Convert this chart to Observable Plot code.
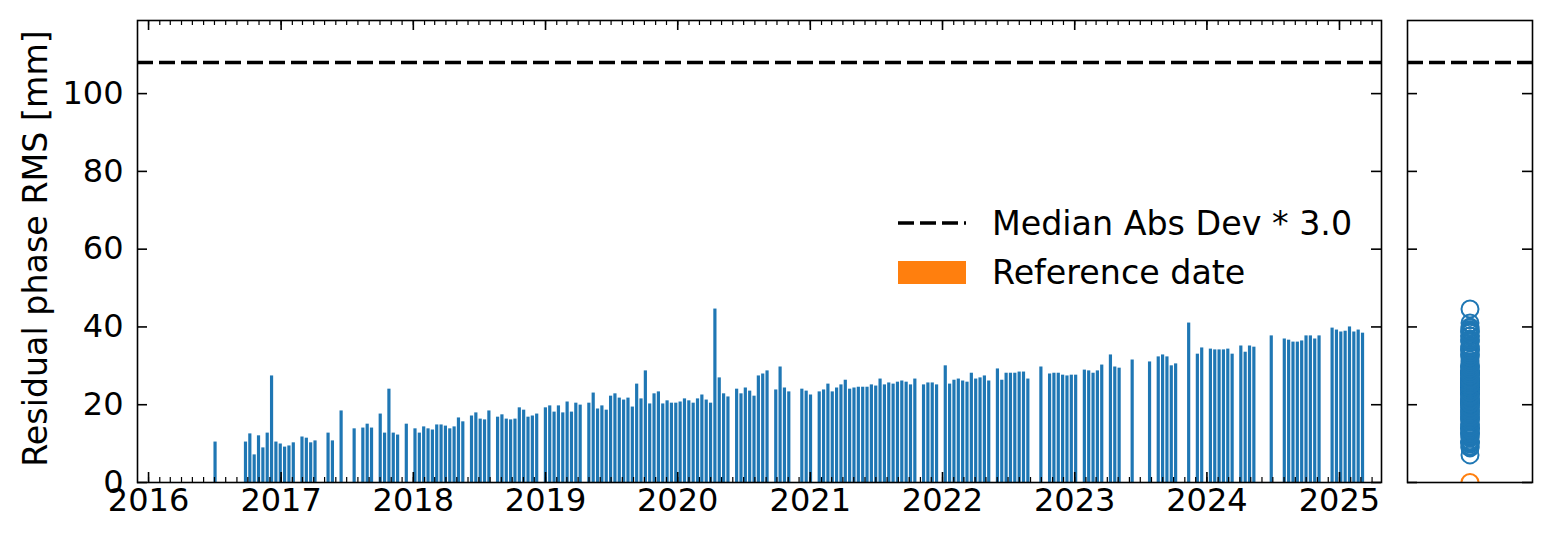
<!DOCTYPE html>
<html><head><meta charset="utf-8">
<script src="https://cdn.jsdelivr.net/npm/d3@7"></script>
<script src="https://cdn.jsdelivr.net/npm/@observablehq/plot@0.6"></script>
<style>
body{margin:0;background:#fff;}
#wrap{position:relative;width:1552px;height:545px;font-family:"DejaVu Sans";}
#wrap > svg{position:absolute;top:0;}
</style></head><body><div id="wrap"></div>
<script>
// ---- data ----
const dates = [
 "2016-07-04","2016-09-26","2016-10-08","2016-10-20","2016-11-01","2016-11-13","2016-11-25","2016-12-07","2016-12-19","2016-12-31",
 "2017-01-12","2017-01-24","2017-02-05","2017-03-01","2017-03-13","2017-03-25","2017-04-06","2017-05-12","2017-05-24","2017-06-17",
 "2017-07-23","2017-08-16","2017-08-28","2017-09-09","2017-10-03","2017-10-15","2017-10-27","2017-11-08","2017-11-20","2017-12-14",
 "2018-01-07","2018-01-19","2018-01-31","2018-02-12","2018-02-24","2018-03-08","2018-03-20","2018-04-01","2018-04-13","2018-04-25","2018-05-07","2018-05-19",
 "2018-06-12","2018-06-24","2018-07-06","2018-07-18","2018-07-30",
 "2018-08-23","2018-09-04","2018-09-16","2018-09-28","2018-10-10","2018-10-22","2018-11-03","2018-11-15","2018-11-27","2018-12-09",
 "2019-01-02","2019-01-14","2019-01-26","2019-02-07","2019-02-19","2019-03-03","2019-03-15","2019-03-27","2019-04-08",
 "2019-05-02","2019-05-14","2019-05-26","2019-06-07","2019-06-19","2019-07-01","2019-07-13","2019-07-25","2019-08-06","2019-08-18","2019-08-30",
 "2019-09-11","2019-09-23","2019-10-05","2019-10-17","2019-10-29","2019-11-10","2019-11-22","2019-12-04","2019-12-16","2019-12-28",
 "2020-01-09","2020-01-21","2020-02-02","2020-02-14","2020-02-26","2020-03-09","2020-03-21","2020-04-02","2020-04-14","2020-04-26","2020-05-08","2020-05-20",
 "2020-06-13","2020-06-25","2020-07-07","2020-07-19","2020-07-31","2020-08-12","2020-08-24","2020-09-05",
 "2020-09-29","2020-10-11","2020-10-23","2020-11-04","2020-12-10","2020-12-22",
 "2021-01-03","2021-01-27","2021-02-08","2021-02-20","2021-03-04","2021-03-16","2021-03-28","2021-04-09","2021-04-21","2021-05-03","2021-05-15","2021-05-27",
 "2021-06-08","2021-06-20","2021-07-02","2021-07-14","2021-07-26","2021-08-07","2021-08-19","2021-08-31","2021-09-12","2021-09-24","2021-10-06","2021-10-18",
 "2021-11-11","2021-11-23","2021-12-05","2021-12-17",
 "2022-01-10","2022-01-22","2022-02-03","2022-02-15","2022-02-27","2022-03-11","2022-03-23","2022-04-04","2022-04-16","2022-04-28","2022-05-10",
 "2022-06-03","2022-06-15","2022-06-27","2022-07-09","2022-07-21","2022-08-02","2022-08-14","2022-08-26",
 "2022-10-01","2022-10-25","2022-11-06","2022-11-18","2022-11-30","2022-12-12","2022-12-24",
 "2023-01-05","2023-01-29","2023-02-10","2023-02-22","2023-03-06","2023-03-18","2023-04-11","2023-04-23","2023-05-05","2023-06-10","2023-07-28",
 "2023-08-21","2023-09-02","2023-09-14","2023-09-26","2023-10-08","2023-11-13","2023-12-07","2023-12-19",
 "2024-01-12","2024-01-24","2024-02-05","2024-02-17","2024-02-29","2024-03-12","2024-04-05","2024-04-17","2024-04-29","2024-05-11","2024-06-28",
 "2024-08-03","2024-08-15","2024-08-27","2024-09-08","2024-09-20","2024-10-02","2024-10-14","2024-10-26","2024-11-07","2024-12-13","2024-12-25",
 "2025-01-06","2025-01-18","2025-01-30","2025-02-11","2025-02-23","2025-03-07"
];
const rms = [
 10.4,10.4,12.5,7.1,12.0,8.9,12.7,27.4,10.4,9.9,
 9.1,9.4,10.2,11.7,11.4,10.2,10.7,12.7,10.7,18.4,
 13.8,14.0,15.0,14.0,17.6,12.7,24.0,12.7,12.2,15.0,
 13.8,12.7,14.3,13.8,13.5,14.8,14.8,14.5,13.8,14.3,16.6,15.6,
 17.1,17.9,16.3,16.1,18.4,
 16.8,17.4,16.3,16.1,16.3,19.2,18.6,16.8,17.1,17.6,
 19.2,19.7,18.1,19.7,17.9,20.7,18.1,20.4,19.9,
 20.4,23.0,18.9,19.7,18.6,22.2,22.8,21.7,21.2,21.7,19.4,
 25.3,21.5,28.7,20.2,22.8,23.3,20.2,21.0,20.4,20.4,
 20.7,21.5,21.0,20.4,21.5,22.5,21.2,20.4,44.6,26.9,22.8,22.0,
 24.0,22.8,24.3,23.5,22.2,27.4,27.9,28.7,
 23.8,29.7,24.3,23.3,24.0,23.5,
 22.5,23.3,23.8,25.3,23.3,24.3,25.1,26.3,24.0,24.3,24.5,24.5,
 24.5,25.1,24.8,26.6,25.1,25.6,25.3,25.8,26.1,25.8,25.1,26.6,
 25.1,25.6,25.6,25.1,
 30.0,25.3,26.3,26.6,26.1,25.8,28.1,26.6,26.9,27.4,26.1,
 29.2,26.3,28.1,28.1,28.1,28.4,28.4,26.6,
 29.7,27.9,28.1,28.1,27.6,27.4,27.6,
 27.6,28.9,28.7,28.1,28.7,30.2,32.8,29.7,29.4,31.5,31.0,
 32.3,32.8,32.3,30.0,30.5,41.0,33.0,34.6,
 34.3,34.1,34.1,34.1,34.3,33.0,35.1,33.5,35.1,34.8,37.7,
 36.9,36.6,36.1,36.1,36.4,37.7,37.7,36.9,37.7,39.7,39.2,
 38.7,38.9,40.0,38.7,39.2,38.4
];
const referenceDate = "2016-09-14";
const referenceRms = 0;
const threshold = 108.0;
const thresholdLabel = "Median Abs Dev * 3.0";
const referenceLabel = "Reference date";
const yLabel = "Residual phase RMS [mm]";
const yTicks = [0, 20, 40, 60, 80, 100];
const yearTicks = ["2016","2017","2018","2019","2020","2021","2022","2023","2024","2025"];
const xStart = "2015-12-01T12:00:00Z", xEnd = "2025-04-27T00:00:00Z";

// ---- drawing ----
const C0 = "#1f77b4", C1 = "#ff7f0e";
const FONT = "DejaVu Sans";
const H = 545, mT = 20, mB = 63;
const plotH = H - mT - mB;
const data = dates.map((d, i) => ({date: new Date(d), v: rms[i]}));
const refData = [{date: new Date(referenceDate), v: referenceRms}];
const halfBar = 4.4 * 864e5;
const xDomain = [new Date(xStart), new Date(xEnd)];
const yDomain = [0, threshold * 1.1];
const years = yearTicks.map(y => new Date(y + "-01-01T00:00:00Z"));
const months = d3.utcMonths(xDomain[0], xDomain[1]);
const style = {fontFamily: FONT, fontSize: "32px", background: "transparent", overflow: "visible", color: "black"};

const mainW = 1400, mL = 137, mR = 19;
const plotW = mainW - mL - mR;
const tk = {stroke: "black", strokeWidth: 1.6};
const main = Plot.plot({
  width: mainW, height: H, marginLeft: mL, marginRight: mR, marginTop: mT, marginBottom: mB,
  style,
  x: {type: "utc", domain: xDomain},
  y: {domain: yDomain},
  marks: [
    Plot.rectY(data, {x1: d => new Date(+d.date - halfBar), x2: d => new Date(+d.date + halfBar), y: "v", fill: C0}),
    Plot.rectY(refData, {x1: d => new Date(+d.date - halfBar), x2: d => new Date(+d.date + halfBar), y: "v", fill: C1}),
    Plot.ruleY([threshold], {stroke: "black", strokeWidth: 3.5, strokeDasharray: "16,6"}),
    Plot.tickY(yTicks, {y: d => d, insetRight: plotW - 10, ...tk}),
    Plot.tickY(yTicks, {y: d => d, insetLeft: plotW - 10, ...tk}),
    Plot.tickX(months, {x: d => d, insetTop: plotH - 5, stroke: "black", strokeWidth: 1.2}),
    Plot.tickX(months, {x: d => d, insetBottom: plotH - 5, stroke: "black", strokeWidth: 1.2}),
    Plot.tickX(years, {x: d => d, insetTop: plotH - 10, ...tk}),
    Plot.tickX(years, {x: d => d, insetBottom: plotH - 10, ...tk}),
    Plot.axisY({ticks: yTicks, tickSize: 0, tickPadding: 14, label: null}),
    Plot.axisX({ticks: years, tickSize: 0, tickPadding: 6, tickFormat: d3.utcFormat("%Y"), label: null}),
    Plot.text([yLabel], {frameAnchor: "left", rotate: -90, dx: -101, dy: -3, textAnchor: "middle", fontSize: 33.3, text: d => d}),
    Plot.frame({stroke: "black", strokeWidth: 1.6})
  ]
});
main.style.left = "0px";

const sideX = 1390, sideW = 162, sL = 17, sR = 20;
const sidePlotW = sideW - sL - sR;
const side = Plot.plot({
  width: sideW, height: H, marginLeft: sL, marginRight: sR, marginTop: mT, marginBottom: mB,
  style,
  x: {domain: [-1, 1], axis: null},
  y: {domain: yDomain, axis: null},
  marks: [
    Plot.ruleY([threshold], {stroke: "black", strokeWidth: 3.5, strokeDasharray: "16,6"}),
    Plot.dot(rms, {x: () => 0, y: d => d, r: 8.5, stroke: C0, strokeWidth: 2, fill: "none", clip: true}),
    Plot.dot([referenceRms], {x: () => 0, y: d => d, r: 8.5, stroke: C1, strokeWidth: 2, fill: "none", clip: true}),
    Plot.tickY(yTicks, {y: d => d, insetRight: sidePlotW - 10, ...tk}),
    Plot.tickY(yTicks, {y: d => d, insetLeft: sidePlotW - 10, ...tk}),
    Plot.frame({stroke: "black", strokeWidth: 1.6})
  ]
});
side.style.left = sideX + "px";

const wrap = document.getElementById("wrap");
wrap.appendChild(main);
wrap.appendChild(side);

// legend overlay
const leg = d3.select(wrap).append("svg").attr("width", 1552).attr("height", H)
  .style("left", "0px").style("font-family", FONT).style("font-size", "33.3px");
leg.append("line").attr("x1", 898).attr("x2", 966).attr("y1", 223).attr("y2", 223)
  .attr("stroke", "black").attr("stroke-width", 3.5).attr("stroke-dasharray", "16,6");
leg.append("text").attr("x", 992).attr("y", 223).attr("dy", "0.36em").text(thresholdLabel);
leg.append("rect").attr("x", 898).attr("y", 261).attr("width", 68).attr("height", 23).attr("fill", C1);
leg.append("text").attr("x", 992).attr("y", 272).attr("dy", "0.36em").text(referenceLabel);
</script></body></html>
